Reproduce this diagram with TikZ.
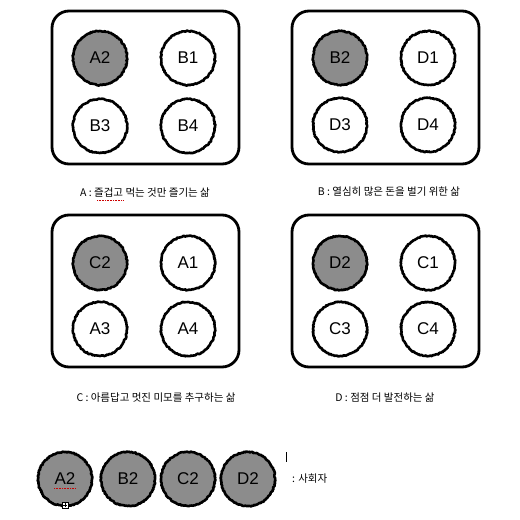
\documentclass[tikz,border=0pt]{standalone}
\usepackage{fontspec}
\setmainfont{Liberation Sans}
\newfontfamily\kr{Noto Sans CJK KR}
\usetikzlibrary{decorations.pathmorphing}
\definecolor{ballgrey}{HTML}{8C8C8C}
\tikzset{
  panel/.style={draw=black, line width=2.8pt, rounded corners=17pt},
  ball/.style={circle, minimum size=54pt, inner sep=0pt, font=\fontsize{17}{17}\selectfont,
    draw=black, line width=2.6pt, fill=white, line join=round, line cap=round,
    decorate, decoration={random steps, segment length=1pt, amplitude=0.55pt}},
  ballhead/.style={ball, fill=ballgrey},
  caption/.style={font=\kr\fontsize{10.5}{11}\selectfont, inner sep=0pt},
}
\begin{document}
\begin{tikzpicture}[x=1pt, y=-1pt]
\useasboundingbox (0,0) rectangle (520,520);
\fill[white] (0,0) rectangle (520,520);
% panels
\draw[panel] (52,11) rectangle (239,164);
\draw[panel] (292,11) rectangle (479,164);
\draw[panel] (52,215) rectangle (239,367);
\draw[panel] (292,215) rectangle (479,367);
% panel A
\node[ballhead] (pa2) at (100,58) {A2};
\node[ball] (pb1) at (188,58) {B1};
\node[ball] (pb3) at (100,126) {B3};
\node[ball] (pb4) at (188,126) {B4};
% panel B
\node[ballhead] (qb2) at (340,58) {B2};
\node[ball] (qd1) at (428,58) {D1};
\node[ball] (qd3) at (340,125) {D3};
\node[ball] (qd4) at (428,125) {D4};
% panel C
\node[ballhead] (rc2) at (100,263) {C2};
\node[ball] (ra1) at (188,263) {A1};
\node[ball] (ra3) at (100,329) {A3};
\node[ball] (ra4) at (188,329) {A4};
% panel D
\node[ballhead] (sd2) at (340,263) {D2};
\node[ball] (sc1) at (428,263) {C1};
\node[ball] (sc3) at (340,329) {C3};
\node[ball] (sc4) at (428,329) {C4};
% captions
\node[caption] (capa) at (145,193) {A : 즐겁고 먹는 것만 즐기는 삶};
\node[caption] (capb) at (389,192) {B :  열심히 많은 돈을 벌기 위한 삶};
\node[caption] (capc) at (156,398) {C : 아름답고 멋진 미모를 추구하는 삶};
\node[caption] (capd) at (385,398) {D : 점점 더 발전하는 삶};
% spell-check underline under 즐겁고
\draw[red!80!black, line width=0.5pt, dash pattern=on 1pt off 0.6pt] (97,200) -- (123,200);
% bottom row
\node[ballhead] (ha2) at (65,479) {A2};
\node[ballhead] (hb2) at (128,479) {B2};
\node[ballhead] (hc2) at (188,479) {C2};
\node[ballhead] (hd2) at (248,479) {D2};
\node[caption, anchor=west] (host) at (292,479) {: 사회자};
\draw[red!80!black, line width=0.5pt, dash pattern=on 1pt off 0.6pt] (54,488) -- (76,488);
\coordinate (cur1) at (286,452);
\coordinate (cur2) at (286,462);
\draw[black, line width=0.6pt] (cur1) -- (cur2);
\node[draw=black, fill=white, line width=0.5pt, minimum size=6pt, inner sep=0pt] (plusbox) at (65,505) {};
\draw[line width=0.5pt] ([xshift=-2pt]plusbox.center) -- ([xshift=2pt]plusbox.center)
  ([yshift=-2pt]plusbox.center) -- ([yshift=2pt]plusbox.center);
\end{tikzpicture}
\end{document}
